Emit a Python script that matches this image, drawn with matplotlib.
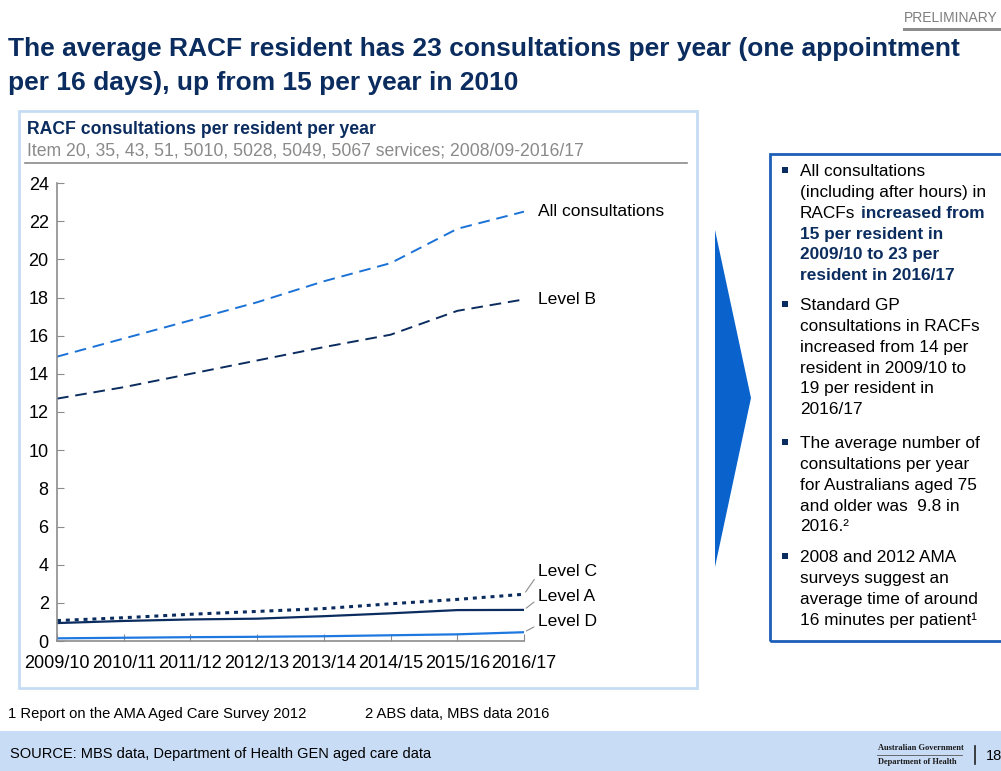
import matplotlib
matplotlib.use("Agg")
import matplotlib.pyplot as plt
from matplotlib.patches import Rectangle, Polygon
from matplotlib.lines import Line2D

plt.rcParams['font.family'] = ['Liberation Sans', 'DejaVu Sans']

# data
years = ['2009/10', '2010/11', '2011/12', '2012/13', '2013/14', '2014/15', '2015/16', '2016/17']
all_consult = [14.9, 15.85, 16.8, 17.75, 18.85, 19.8, 21.6, 22.5]
level_b = [12.7, 13.3, 14.0, 14.7, 15.4, 16.05, 17.3, 17.9]
level_c = [1.07, 1.22, 1.4, 1.55, 1.7, 1.95, 2.18, 2.45]
level_a = [0.94, 1.05, 1.13, 1.17, 1.3, 1.45, 1.62, 1.63]
level_d = [0.14, 0.17, 0.2, 0.22, 0.25, 0.3, 0.35, 0.46]
y_ticks = list(range(0, 25, 2))

NAVY = '#0b2c5f'
MIDBLUE = '#1b72d6'
BRIGHT = '#1f78e0'
W, H = 1001, 771


def fx(px):
    return px / W


def fy(py):
    return 1 - py / H


fig = plt.figure(figsize=(W / 100, H / 100), dpi=100)

# header
fig.text(fx(998), fy(18), 'PRELIMINARY', ha='right', va='center', fontsize=10, color='#7f7f7f')
fig.add_artist(Rectangle((fx(903), fy(31)), fx(98), 3 / H, transform=fig.transFigure,
                         color='#8c8c8c', lw=0))
fig.text(fx(8), fy(49), 'The average RACF resident has 23 consultations per year (one appointment',
         ha='left', va='center', fontsize=19, fontweight='bold', color=NAVY)
fig.text(fx(8), fy(83), 'per 16 days), up from 15 per year in 2010',
         ha='left', va='center', fontsize=19, fontweight='bold', color=NAVY)

# chart frame
fig.add_artist(Rectangle((fx(19), fy(688)), fx(678), (688 - 111) / H, transform=fig.transFigure,
                         fill=False, edgecolor='#c6dcf4', lw=2))
fig.text(fx(27), fy(130), 'RACF consultations per resident per year', ha='left', va='center',
         fontsize=12.7, fontweight='bold', color=NAVY)
fig.text(fx(27), fy(151), 'Item 20, 35, 43, 51, 5010, 5028, 5049, 5067 services; 2008/09-2016/17',
         ha='left', va='center', fontsize=12.7, color='#8a8a8a')
fig.add_artist(Line2D([fx(25), fx(687)], [fy(163), fy(163)], transform=fig.transFigure,
                      color='#8a8a8a', lw=1.2))

ax = fig.add_axes([fx(57), fy(641), fx(524 - 57), (641 - 183) / H])
x = list(range(len(years)))
ax.plot(x, all_consult, color=MIDBLUE, lw=1.4, ls=(0, (6, 3.5)))
ax.plot(x, level_b, color=NAVY, lw=1.4, ls=(0, (6, 3.5)))
ax.plot(x, level_c, color=NAVY, lw=2.2, ls=(0, (1.3, 1.6)))
ax.plot(x, level_a, color=NAVY, lw=1.6)
ax.plot(x, level_d, color=BRIGHT, lw=1.6)

ax.set_xlim(0, len(years) - 1)
ax.set_ylim(0, 24)
ax.set_yticks(y_ticks)
ax.set_xticks(x)
ax.set_xticklabels(years)
for s in ['top', 'right']:
    ax.spines[s].set_visible(False)
for s in ['left', 'bottom']:
    ax.spines[s].set_color('#8c8c8c')
    ax.spines[s].set_linewidth(1.2)
ax.tick_params(axis='both', direction='in', length=5, color='#8c8c8c', labelsize=13)
ax.tick_params(axis='x', pad=10)
ax.tick_params(axis='y', pad=6)
ax.patch.set_alpha(0)

# series labels
ax.annotate('All consultations', (x[-1], all_consult[-1]), xytext=(10, 0), textcoords='offset points',
            ha='left', va='center', fontsize=12.6)
ax.annotate('Level B', (x[-1], level_b[-1]), xytext=(10, 0), textcoords='offset points',
            ha='left', va='center', fontsize=12.6)
for lbl, vals, dy in [('Level C', level_c, 16.5), ('Level A', level_a, 10), ('Level D', level_d, 7.5)]:
    ax.annotate(lbl, (x[-1], vals[-1]), xytext=(10, dy), textcoords='offset points',
                ha='left', va='center', fontsize=12.6, annotation_clip=False,
                arrowprops=dict(arrowstyle='-', color='#8c8c8c', lw=0.8,
                                shrinkA=1, shrinkB=2, relpos=(0, 0.3)))

# chevron
fig.add_artist(Polygon([(fx(715), fy(230)), (fx(751), fy(398)), (fx(715), fy(567))],
                       closed=True, transform=fig.transFigure, color='#0a63cc', lw=0))

# text box
fig.add_artist(Rectangle((fx(770), fy(641)), fx(240), (641 - 154) / H, transform=fig.transFigure,
                         fill=False, edgecolor='#1d5fb8', lw=2))
bullets = [
    (172, ['All consultations', '(including after hours) in', 'RACFs', '15 per resident in',
           '2009/10 to 23 per', 'resident in 2016/17']),
    (306, ['Standard GP', 'consultations in RACFs', 'increased from 14 per',
           'resident in 2009/10 to', '19 per resident in', '2016/17']),
    (444, ['The average number of', 'consultations per year', 'for Australians aged 75',
           'and older was  9.8 in', '2016.\u00b2']),
    (558, ['2008 and 2012 AMA', 'surveys suggest an', 'average time of around',
           '16 minutes per patient\u00b9']),
]
lh = 20.7
for y0, lines in bullets:
    fig.add_artist(Rectangle((fx(782), fy(y0 + 1)), 6 / W, 6 / H, transform=fig.transFigure,
                             color=NAVY, lw=0))
    for i, line in enumerate(lines):
        yy = y0 + i * lh
        bold = (y0 == 172 and i >= 3)
        fig.text(fx(800), fy(yy), line, ha='left', va='center', fontsize=12.4,
                 fontweight='bold' if bold else 'normal', color=NAVY if bold else 'black')
fig.text(fx(861), fy(172 + 2 * lh), 'increased from', ha='left', va='center', fontsize=12.4,
         fontweight='bold', color=NAVY)

# footnotes and footer
fig.text(fx(8), fy(714), '1 Report on the AMA Aged Care Survey 2012', ha='left', va='center', fontsize=10.6)
fig.text(fx(365), fy(714), '2 ABS data, MBS data 2016', ha='left', va='center', fontsize=10.6)
fig.add_artist(Rectangle((0, 0), 1, (771 - 731) / H, transform=fig.transFigure,
                         color='#c8dcf6', lw=0))
fig.text(fx(10), fy(754), 'SOURCE: MBS data, Department of Health GEN aged care data',
         ha='left', va='center', fontsize=10.5)
fig.text(fx(878), fy(748), 'Australian Government', ha='left', va='center', fontsize=6,
         fontweight='bold', family='Liberation Serif', color='#1a1a1a')
fig.text(fx(878), fy(762), 'Department of Health', ha='left', va='center', fontsize=6,
         fontweight='bold', family='Liberation Serif', color='#1a1a1a')
fig.add_artist(Line2D([fx(877), fx(962)], [fy(755), fy(755)], transform=fig.transFigure,
                      color='#555555', lw=0.6))
fig.add_artist(Line2D([fx(975), fx(975)], [fy(746), fy(764)], transform=fig.transFigure,
                      color='#222222', lw=1.2))
fig.text(fx(986), fy(756), '18', ha='left', va='center', fontsize=10.5)

fig.savefig('out.png', dpi=100)
